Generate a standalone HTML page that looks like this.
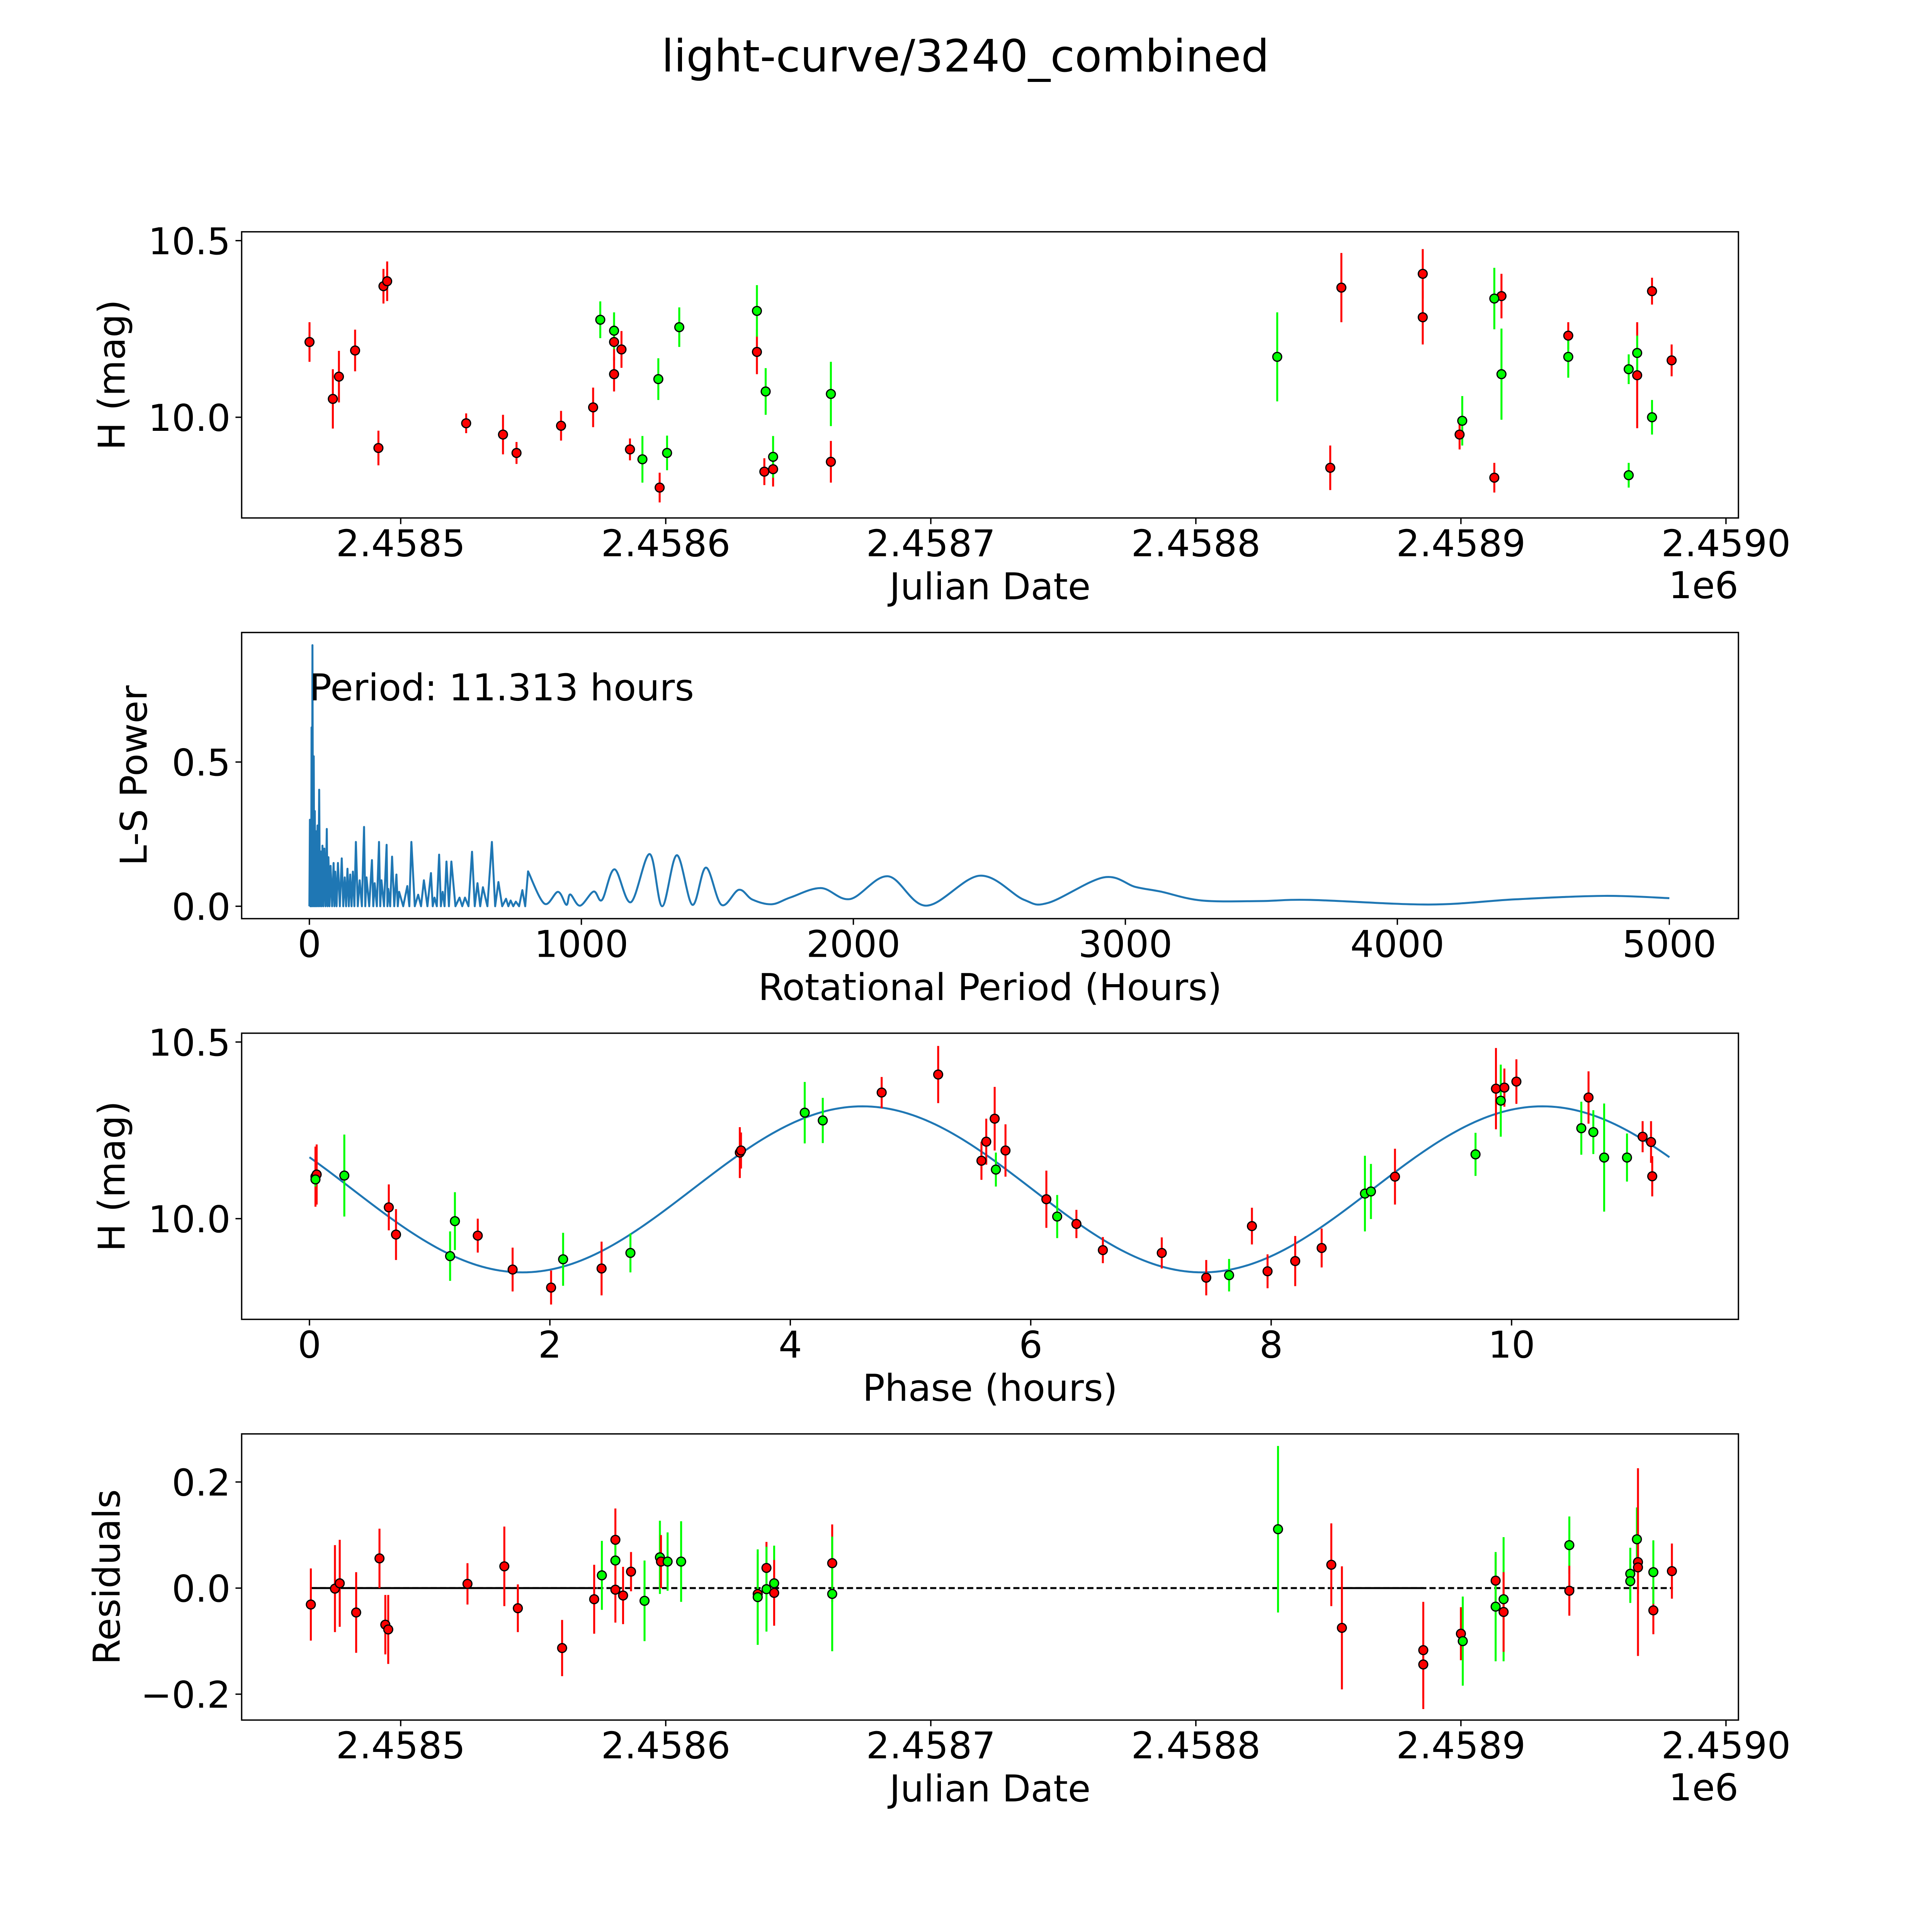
<!DOCTYPE html>
<html><head><meta charset="utf-8"><style>
html,body{margin:0;padding:0;background:#fff;overflow:hidden;width:100vw;height:100vh;}
svg{display:block;width:100vw;height:100vh;font-family:"DejaVu Sans","Liberation Sans",sans-serif;}
</style></head><body>
<svg id="fig" xmlns="http://www.w3.org/2000/svg" viewBox="0 0 1567 1567" preserveAspectRatio="xMidYMid meet">
<rect x="0" y="0" width="1567" height="1567" fill="#fff"/>
<text x="783" y="58" font-size="36" text-anchor="middle">light-curve/3240_combined</text>
</svg>
<script>
// ---- Panel 1: raw light curve ----
const p1Jd=[2458465.6,2458474.4,2458476.7,2458482.8,2458491.6,2458493.5,2458494.9,2458524.7,2458538.6,2458543.7,2458560.5,2458572.6,2458580.5,2458580.5,2458583.3,2458586.5,2458597.7,2458634.4,2458637.2,2458640.5,2458662.3,2458850.7,2458854.9,2458885.6,2458885.6,2458899.5,2458912.6,2458915.3,2458940.5,2458966.5,2458972.1,2458979.5,
2458575.3,2458580.5,2458591.2,2458597.2,2458600.5,2458605.1,2458634.4,2458637.7,2458640.5,2458662.3,2458830.7,2458900.5,2458912.6,2458915.3,2458940.5,2458963.3,2458963.3,2458966.5,2458972.1];
const p1Mag=[10.213,10.052,10.115,10.189,9.913,10.371,10.385,9.983,9.951,9.899,9.976,10.028,10.213,10.122,10.192,9.909,9.801,10.185,9.846,9.853,9.874,9.857,10.367,10.406,10.283,9.951,9.829,10.343,10.231,10.119,10.357,10.161,
10.276,10.245,9.881,10.108,9.899,10.255,10.301,10.073,9.888,10.066,10.171,9.990,10.336,10.122,10.171,10.136,9.836,10.182,10.000];
const p1Err=[0.056,0.084,0.073,0.059,0.049,0.049,0.056,0.028,0.056,0.031,0.042,0.056,0.052,0.049,0.052,0.031,0.042,0.063,0.038,0.049,0.059,0.063,0.098,0.070,0.077,0.042,0.042,0.063,0.038,0.150,0.038,0.045,
0.052,0.052,0.066,0.059,0.049,0.056,0.073,0.066,0.059,0.091,0.126,0.070,0.087,0.129,0.059,0.042,0.035,0.049,0.049];
const p1Band=["r","r","r","r","r","r","r","r","r","r","r","r","r","r","r","r","r","r","r","r","r","r","r","r","r","r","r","r","r","r","r","r",
"g","g","g","g","g","g","g","g","g","g","g","g","g","g","g","g","g","g","g"];

// ---- Panel 2: Lomb-Scargle periodogram ----
const lsSpikePeriod=[2,5,8,11.3,16,20,25,30,36,42,48,55,64,70,78,89,95,105,119,130,140,150,160,171,185,201,210,230,240,256,265,284,290,304,320,330,360,375,400,421,447,460,477,490,504,522,552,572,598,618,638,671,695,723,740,759,783];
const lsSpikePower=[0.30,0.25,0.62,0.905,0.52,0.33,0.26,0.28,0.404,0.19,0.21,0.20,0.268,0.17,0.14,0.15,0.12,0.15,0.166,0.10,0.13,0.11,0.12,0.223,0.09,0.275,0.10,0.16,0.08,0.223,0.09,0.213,0.06,0.172,0.11,0.05,0.07,0.223,0.04,0.09,0.115,0.03,0.179,0.05,0.155,0.155,0.03,0.03,0.189,0.08,0.066,0.223,0.084,0.026,0.02,0.016,0.056];
const lsSmoothPeriod=[804,864,914,945,959,995,1045,1076,1122,1182,1251,1297,1351,1408,1458,1515,1579,1629,1700,1770,1881,1988,2127,2268,2465,2626,2717,2920,3037,3129,3280,3497,3681,4116,4434,4761,5000];
const lsSmoothPower=[0.121,0.009,0.05,0.005,0.041,0.002,0.051,0.022,0.128,0.014,0.181,0.0,0.177,0.005,0.134,0.005,0.057,0.023,0.007,0.031,0.063,0.025,0.104,0.002,0.106,0.023,0.012,0.100,0.067,0.051,0.020,0.018,0.022,0.006,0.024,0.036,0.028];
const bestPeriodLabel="Period: 11.313 hours";

// ---- Panel 3: phased light curve ----
const p3Phase=[0.05,0.06,0.05,0.29,0.66,0.72,1.21,1.17,1.40,1.69,2.01,2.11,2.43,2.67,3.58,3.59,4.12,4.27,4.76,5.23,5.59,5.63,5.70,5.79,5.71,6.13,6.22,6.38,6.60,7.09,7.46,7.65,7.84,7.97,8.20,8.42,8.78,8.83,9.03,9.70,9.87,9.94,9.91,10.04,10.64,10.58,10.68,10.77,10.96,11.09,11.16,11.17];
const p3Mag=[10.119,10.125,10.111,10.122,10.032,9.955,9.993,9.894,9.952,9.856,9.805,9.885,9.859,9.903,10.187,10.193,10.300,10.278,10.357,10.408,10.164,10.218,10.283,10.193,10.139,10.055,10.006,9.985,9.911,9.903,9.833,9.840,9.979,9.851,9.880,9.917,10.071,10.077,10.119,10.182,10.368,10.371,10.334,10.388,10.343,10.256,10.245,10.173,10.173,10.232,10.217,10.120];
const p3Err=[0.085,0.085,0.02,0.116,0.065,0.072,0.082,0.070,0.048,0.062,0.048,0.075,0.076,0.055,0.072,0.051,0.087,0.064,0.044,0.081,0.054,0.065,0.090,0.074,0.048,0.081,0.061,0.040,0.037,0.044,0.050,0.046,0.052,0.048,0.071,0.055,0.107,0.078,0.079,0.061,0.115,0.054,0.102,0.063,0.074,0.075,0.062,0.153,0.068,0.044,0.059,0.057];
const p3Band=["r","r","g","g","r","r","g","g","r","r","r","g","r","g","r","r","g","g","r","r","r","r","r","r","g","r","g","r","r","r","r","g","r","r","r","r","g","g","r","g","r","r","g","r","r","g","g","g","g","r","r","r"];
const modelMean=[10.083], modelAmp=[0.235], modelPeak=[4.60], modelHalfPeriod=[5.6565], modelRange=[0,11.313];

// ---- Panel 4: residuals ----
const p4Jd=[2458466.1,2458475.2,2458477.0,2458483.2,2458492.0,2458494.2,2458495.3,2458525.2,2458539.1,2458544.2,2458560.9,2458573.0,2458575.9,2458581.0,2458581.0,2458581.0,2458583.9,2458586.9,2458592.0,2458597.8,2458598.2,2458600.7,2458605.8,2458634.7,2458634.7,2458638.0,2458638.0,2458640.9,2458640.9,2458662.8,2458662.8,2458831.0,2458851.1,2458855.1,2458885.8,2458885.8,2458900.0,2458900.7,2458913.1,2458913.1,2458916.1,2458916.1,2458940.9,2458940.9,2458963.9,2458963.9,2458966.4,2458966.8,2458966.8,2458972.6,2458972.6,2458979.6];
const p4Res=[-0.031,-0.001,0.009,-0.046,0.056,-0.069,-0.078,0.008,0.041,-0.038,-0.113,-0.021,0.024,0.091,0.052,-0.003,-0.014,0.031,-0.024,0.058,0.050,0.050,0.050,-0.011,-0.017,0.038,-0.002,0.009,-0.009,0.047,-0.011,0.111,0.044,-0.075,-0.117,-0.144,-0.086,-0.100,0.014,-0.035,-0.021,-0.045,0.081,-0.005,0.027,0.013,0.092,0.049,0.039,-0.042,0.030,0.032];
const p4Err=[0.068,0.082,0.082,0.076,0.056,0.056,0.065,0.039,0.075,0.045,0.053,0.065,0.065,0.059,0.037,0.062,0.054,0.037,0.076,0.069,0.050,0.055,0.076,0.075,0.090,0.049,0.080,0.071,0.062,0.073,0.108,0.157,0.078,0.116,0.091,0.084,0.050,0.084,0.050,0.103,0.117,0.075,0.054,0.047,0.049,0.041,0.060,0.177,0.050,0.045,0.060,0.052];
const p4Band=["r","r","r","r","r","r","r","r","r","r","r","r","g","r","g","r","r","r","g","g","r","g","g","r","g","r","g","g","r","r","g","g","r","r","r","r","r","g","r","g","g","r","g","r","g","g","g","r","r","r","g","r"];
const p4SolidSegments=[[2458466,2458574],[2458854,2458886]];
const p4DashedSpan=[2458466,2458980];

// tick arrays
const jdTicks=[2458500,2458600,2458700,2458800,2458900,2459000];
const jdTickLabels=["2.4585","2.4586","2.4587","2.4588","2.4589","2.4590"];
const magTicks=[10.0,10.5], magTickLabels=["10.0","10.5"];
const lsXTicks=[0,1000,2000,3000,4000,5000], lsXTickLabels=["0","1000","2000","3000","4000","5000"];
const lsYTicks=[0,0.5], lsYTickLabels=["0.0","0.5"];
const phTicks=[0,2,4,6,8,10], phTickLabels=["0","2","4","6","8","10"];
const resTicks=[-0.2,0,0.2], resTickLabels=["\u22120.2","0.0","0.2"];

const NS="http://www.w3.org/2000/svg";
const svg=document.getElementById('fig');
const L=196,R=1410,H=232.1;
const RED="#ff0000",GREEN="#00ff00",BLUE="#1f77b4";
function mk(tag,attrs,parent){const e=document.createElementNS(NS,tag);for(const k in attrs)e.setAttribute(k,attrs[k]);(parent||svg).appendChild(e);return e;}
function axes(name,top,xlim,ylim){
  const g=mk('g',{});
  
  
  const sx=v=>L+(v-xlim[0])/(xlim[1]-xlim[0])*(R-L);
  const sy=v=>top+H-(v-ylim[0])/(ylim[1]-ylim[0])*H;
  return {g,sx,sy,top,bottom:top+H};
}
function frame(ax,xt,xtl,yt,ytl,xlabel,ylabel,ylabelX,extra){
  const r=mk('rect',{x:L,y:ax.top,width:R-L,height:H,fill:'none',stroke:'#000','stroke-width':1.1},ax.g);
  
  
  xt.forEach((v,i)=>{const x=ax.sx(v);
    const t=mk('line',{x1:x,x2:x,y1:ax.bottom,y2:ax.bottom+5,stroke:'#000','stroke-width':1.1},ax.g);
    
    
    const tx=mk('text',{x:x,y:ax.bottom+31,'font-size':30,'text-anchor':'middle'},ax.g);tx.textContent=xtl[i];
    
    });
  yt.forEach((v,i)=>{const y=ax.sy(v);
    const t=mk('line',{x1:L-5,x2:L,y1:y,y2:y,stroke:'#000','stroke-width':1.1},ax.g);
    
    
    const tx=mk('text',{x:L-9,y:y+11,'font-size':30,'text-anchor':'end'},ax.g);tx.textContent=ytl[i];
    
    });
  const xl=mk('text',{x:(L+R)/2,y:ax.bottom+66,'font-size':30,'text-anchor':'middle'},ax.g);xl.textContent=xlabel;
  
  
  const cy=ax.top+H/2;
  const yl=mk('text',{x:ylabelX,y:cy,'font-size':30,'text-anchor':'middle',transform:`rotate(-90 ${ylabelX} ${cy})`},ax.g);yl.textContent=ylabel;
  
  
  if(extra){const o=mk('text',{x:R,y:ax.bottom+65,'font-size':30,'text-anchor':'end'},ax.g);o.textContent=extra;
    
    }
}
function errPoints(ax,xs,ys,es,bands){
  const ge=mk('g',{},ax.g);
  
  
  const gp=mk('g',{},ax.g);
  
  
  xs.forEach((xv,i)=>{
    const x=ax.sx(xv),col=bands[i]==='g'?GREEN:RED;
    const l=mk('line',{x1:x,x2:x,y1:ax.sy(ys[i]-es[i]),y2:ax.sy(ys[i]+es[i]),stroke:col,'stroke-width':1.6},ge);
    
    
  });
  xs.forEach((xv,i)=>{
    const col=bands[i]==='g'?GREEN:RED;
    const c=mk('circle',{cx:ax.sx(xv),cy:ax.sy(ys[i]),r:3.6,fill:col,stroke:'#000','stroke-width':1},gp);
    
    
  });
}
const jdLim=[2458440,2459004.7], magLim=[9.715,10.525];

// Panel 1
const a1=axes('light-curve-panel',188,jdLim,magLim);
errPoints(a1,p1Jd,p1Mag,p1Err,p1Band);
frame(a1,jdTicks,jdTickLabels,magTicks,magTickLabels,'Julian Date','H (mag)',101,'1e6');

// Panel 2
const a2=axes('periodogram-panel',513,[-249,5254],[-0.043,0.949]);
(function(){
  let pts=[[0,0]];
  for(let i=0;i<lsSpikePeriod.length;i++){
    pts.push([lsSpikePeriod[i],lsSpikePower[i]]);
    const nx=i+1<lsSpikePeriod.length?lsSpikePeriod[i+1]:lsSmoothPeriod[0];
    pts.push([(lsSpikePeriod[i]+nx)/2,0]);
  }
  let d='M'+pts.map(p=>a2.sx(p[0]).toFixed(2)+','+a2.sy(p[1]).toFixed(2)).join(' L');
  const sp=lsSmoothPeriod.map((p,i)=>[a2.sx(p),a2.sy(lsSmoothPower[i])]);
  d+=' L'+sp[0][0].toFixed(2)+','+sp[0][1].toFixed(2);
  for(let i=0;i<sp.length-1;i++){
    const p0=sp[Math.max(0,i-1)],p1=sp[i],p2=sp[i+1],p3=sp[Math.min(sp.length-1,i+2)];
    const c1=[p1[0]+(p2[0]-p0[0])/6,p1[1]+(p2[1]-p0[1])/6],c2=[p2[0]-(p3[0]-p1[0])/6,p2[1]-(p3[1]-p1[1])/6];
    d+=` C${c1[0].toFixed(2)},${c1[1].toFixed(2)} ${c2[0].toFixed(2)},${c2[1].toFixed(2)} ${p2[0].toFixed(2)},${p2[1].toFixed(2)}`;
  }
  const path=mk('path',{d:d,fill:'none',stroke:BLUE,'stroke-width':1.6,'stroke-linejoin':'round'},a2.g);
  
  
  const t=mk('text',{x:a2.sx(0),y:568,'font-size':30},a2.g);t.textContent=bestPeriodLabel;
  
  
})();
frame(a2,lsXTicks,lsXTickLabels,lsYTicks,lsYTickLabels,'Rotational Period (Hours)','L-S Power',119);

// Panel 3
const a3=axes('phased-curve-panel',838,[-0.564,11.887],magLim);
(function(){
  let d='';
  for(let k=0;k<=300;k++){
    const ph=modelRange[0]+(modelRange[1]-modelRange[0])*k/300;
    const m=modelMean[0]+modelAmp[0]*Math.cos(2*Math.PI*(ph-modelPeak[0])/modelHalfPeriod[0]);
    d+=(k?' L':'M')+a3.sx(ph).toFixed(2)+','+a3.sy(m).toFixed(2);
  }
  const p=mk('path',{d:d,fill:'none',stroke:BLUE,'stroke-width':1.6},a3.g);
  
  
})();
errPoints(a3,p3Phase,p3Mag,p3Err,p3Band);
frame(a3,phTicks,phTickLabels,magTicks,magTickLabels,'Phase (hours)','H (mag)',101);

// Panel 4
const a4=axes('residuals-panel',1163,jdLim,[-0.2488,0.2907]);
(function(){
  p4SolidSegments.forEach(s=>{
    const l=mk('line',{x1:a4.sx(s[0]),x2:a4.sx(s[1]),y1:a4.sy(0),y2:a4.sy(0),stroke:'#000','stroke-width':1.6},a4.g);
    
    
  });
  const l=mk('line',{x1:a4.sx(p4DashedSpan[0]),x2:a4.sx(p4DashedSpan[1]),y1:a4.sy(0),y2:a4.sy(0),stroke:'#000','stroke-width':1.6,'stroke-dasharray':'5,2.5'},a4.g);
  
  
})();
errPoints(a4,p4Jd,p4Res,p4Err,p4Band);
frame(a4,jdTicks,jdTickLabels,resTicks,resTickLabels,'Julian Date','Residuals',97,'1e6');
</script>
</body></html>
